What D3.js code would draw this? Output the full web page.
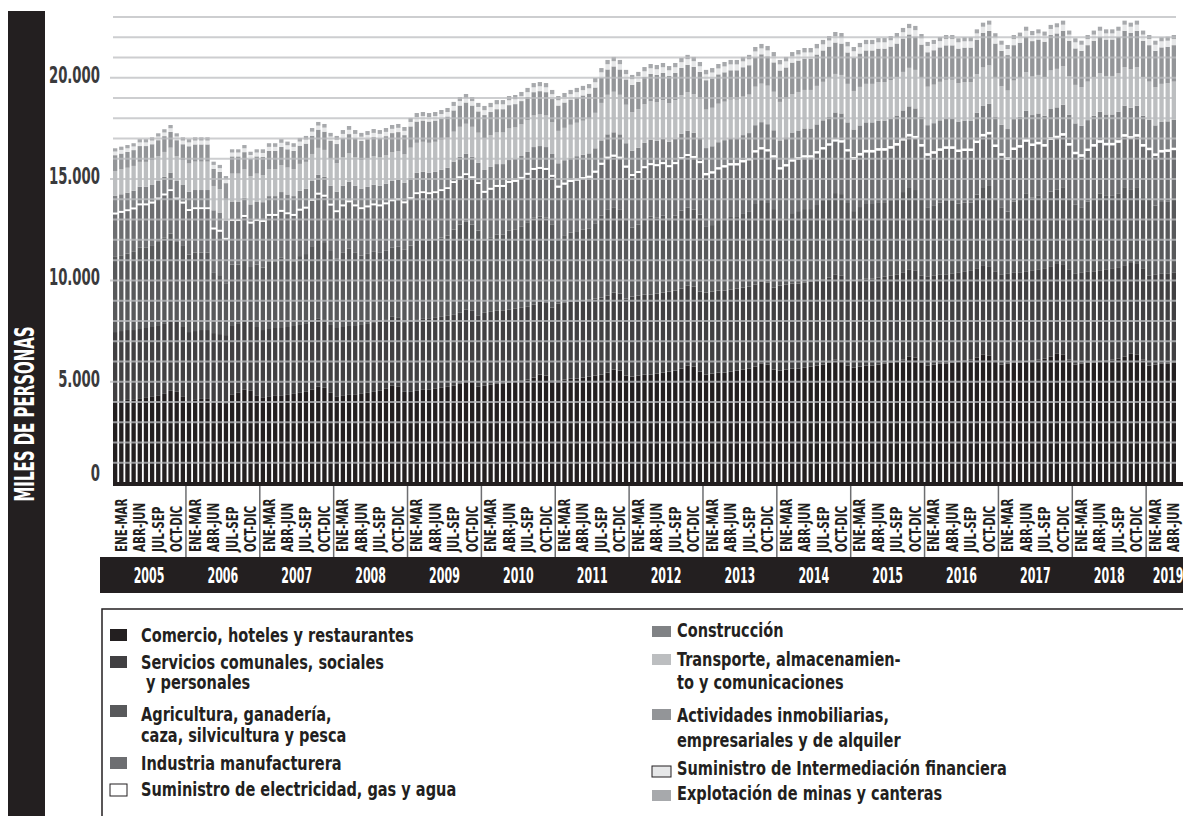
<!DOCTYPE html>
<html>
<head>
<meta charset="utf-8">
<script src="https://cdn.jsdelivr.net/npm/d3@7"></script>
<style>
body { margin: 0; background: #fff; }
text { font-family: "DejaVu Sans Condensed", "DejaVu Sans", sans-serif; font-weight: bold; font-stretch: condensed; }
</style>
</head>
<body>
<svg id="chart" width="1183" height="816"></svg>
<script>
const yearLabels = ['2005', '2006', '2007', '2008', '2009', '2010', '2011', '2012', '2013', '2014', '2015', '2016', '2017', '2018', '2019']
const monthLabels = ['ENE-MAR', 'FEB-ABR', 'MAR-MAY', 'ABR-JUN', 'MAY-JUL', 'JUN-AGO', 'JUL-SEP', 'AGO-OCT', 'SEP-NOV', 'OCT-DIC', 'NOV-ENE', 'DIC-FEB']
const quarterLabels = ['ENE-MAR', 'ABR-JUN', 'JUL-SEP', 'OCT-DIC']
const yTicks = [0, 5000, 10000, 15000, 20000]

// miles de personas, trimestre movil (2005 ENE-MAR ... 2019 MAY-JUL)
const comercio = [
    4000, 4050, 4100, 4100, 4150, 4200, 4250, 4300, 4400, 4550, 4500, 4250,
    4050, 4100, 4150, 4150, 4000, 3950, 3900, 4350, 4450, 4600, 4550, 4300,
    4200, 4250, 4300, 4300, 4350, 4400, 4450, 4500, 4600, 4750, 4700, 4450,
    4250, 4300, 4350, 4350, 4400, 4450, 4500, 4550, 4650, 4800, 4750, 4500,
    4500, 4550, 4600, 4600, 4650, 4700, 4750, 4800, 4900, 5050, 5000, 4750,
    4800, 4850, 4900, 4900, 4950, 5000, 5050, 5100, 5200, 5350, 5300, 5050,
    5050, 5100, 5150, 5150, 5200, 5250, 5300, 5350, 5450, 5600, 5550, 5300,
    5250, 5300, 5350, 5350, 5400, 5450, 5500, 5550, 5650, 5800, 5750, 5500,
    5350, 5400, 5450, 5450, 5500, 5550, 5600, 5650, 5750, 5900, 5850, 5600,
    5550, 5600, 5650, 5650, 5700, 5750, 5800, 5850, 5950, 6100, 6050, 5800,
    5700, 5750, 5800, 5800, 5850, 5900, 5950, 6000, 6100, 6250, 6200, 5950,
    5800, 5850, 5900, 5900, 5950, 6000, 6050, 6100, 6200, 6350, 6300, 6050,
    5850, 5900, 5950, 5950, 6000, 6050, 6100, 6150, 6250, 6400, 6350, 6100,
    5850, 5900, 5950, 5950, 6000, 6050, 6100, 6150, 6250, 6400, 6350, 6100,
    5800, 5850, 5900, 5900, 5950
]
const servicios = [
    3450, 3450, 3450, 3450, 3450, 3450, 3450, 3450, 3450, 3450, 3450, 3450,
    3400, 3400, 3400, 3400, 3400, 3400, 3400, 3400, 3400, 3400, 3400, 3400,
    3350, 3350, 3350, 3350, 3350, 3350, 3350, 3350, 3350, 3350, 3350, 3350,
    3400, 3400, 3400, 3400, 3400, 3400, 3400, 3400, 3400, 3400, 3400, 3400,
    3500, 3500, 3500, 3500, 3500, 3500, 3500, 3500, 3500, 3500, 3500, 3500,
    3600, 3600, 3600, 3600, 3600, 3600, 3600, 3600, 3600, 3600, 3600, 3600,
    3800, 3800, 3800, 3800, 3800, 3800, 3800, 3800, 3800, 3800, 3800, 3800,
    3950, 3950, 3950, 3950, 3950, 3950, 3950, 3950, 3950, 3950, 3950, 3950,
    4050, 4050, 4050, 4050, 4050, 4050, 4050, 4050, 4050, 4050, 4050, 4050,
    4200, 4200, 4200, 4200, 4200, 4200, 4200, 4200, 4200, 4200, 4200, 4200,
    4300, 4300, 4300, 4300, 4300, 4300, 4300, 4300, 4300, 4300, 4300, 4300,
    4400, 4400, 4400, 4400, 4400, 4400, 4400, 4400, 4400, 4400, 4400, 4400,
    4450, 4450, 4450, 4450, 4450, 4450, 4450, 4450, 4450, 4450, 4450, 4450,
    4500, 4500, 4500, 4500, 4500, 4500, 4500, 4500, 4500, 4500, 4500, 4500,
    4450, 4450, 4450, 4450, 4450
]
const agricultura = [
    3710, 3740, 3770, 3860, 4010, 3960, 4000, 4150, 4250, 4310, 3950, 4000,
    3830, 3870, 3820, 3820, 2970, 2910, 2560, 3030, 2930, 2990, 2710, 3080,
    3090, 3340, 3290, 3490, 3320, 3190, 3400, 3450, 3740, 3890, 3840, 3650,
    3420, 3660, 3810, 3610, 3420, 3460, 3510, 3410, 3410, 3410, 3510, 3610,
    3720, 3910, 3910, 3860, 3860, 3910, 3960, 4210, 4350, 4350, 4250, 4210,
    3580, 3680, 3770, 3770, 3920, 3920, 4020, 4170, 4310, 4210, 4210, 4120,
    3230, 3330, 3410, 3480, 3500, 3520, 3720, 4060, 4260, 4210, 4160, 3970,
    3400, 3500, 3690, 3840, 3740, 3790, 3590, 3690, 3840, 3840, 3790, 3790,
    3240, 3280, 3430, 3530, 3580, 3530, 3630, 3680, 3970, 3970, 3920, 3870,
    3180, 3280, 3470, 3570, 3620, 3570, 3720, 3870, 3960, 4010, 4010, 3820,
    3420, 3570, 3670, 3670, 3710, 3660, 3710, 3810, 3960, 4010, 3960, 3810,
    3410, 3460, 3550, 3650, 3600, 3390, 3390, 3340, 3630, 3810, 3960, 3590,
    3310, 3050, 3490, 3610, 3850, 3590, 3620, 3460, 3690, 3620, 3800, 3560,
    3380, 3210, 3440, 3660, 3800, 3620, 3570, 3650, 3850, 3600, 3750, 3510,
    3730, 3400, 3520, 3550, 3580
]
const industria = [
    2100, 2100, 2100, 2100, 2100, 2100, 2100, 2100, 2100, 2100, 2100, 2100,
    2150, 2150, 2150, 2150, 2150, 2150, 2150, 2150, 2150, 2150, 2150, 2150,
    2250, 2250, 2250, 2250, 2250, 2250, 2250, 2250, 2250, 2250, 2250, 2250,
    2300, 2300, 2300, 2300, 2300, 2300, 2300, 2300, 2300, 2300, 2300, 2300,
    2300, 2300, 2300, 2300, 2300, 2300, 2300, 2300, 2300, 2300, 2300, 2300,
    2350, 2350, 2350, 2350, 2350, 2350, 2350, 2350, 2350, 2350, 2350, 2350,
    2500, 2500, 2500, 2500, 2500, 2500, 2500, 2500, 2500, 2500, 2500, 2500,
    2550, 2550, 2550, 2550, 2550, 2550, 2550, 2550, 2550, 2550, 2550, 2550,
    2550, 2550, 2550, 2550, 2550, 2550, 2550, 2550, 2550, 2550, 2550, 2550,
    2550, 2550, 2550, 2550, 2550, 2550, 2550, 2550, 2550, 2550, 2550, 2550,
    2550, 2550, 2550, 2550, 2550, 2550, 2550, 2550, 2550, 2550, 2550, 2550,
    2550, 2550, 2550, 2550, 2550, 2550, 2550, 2550, 2550, 2550, 2550, 2550,
    2550, 2550, 2550, 2550, 2550, 2550, 2550, 2550, 2550, 2550, 2550, 2550,
    2500, 2500, 2500, 2500, 2500, 2500, 2500, 2500, 2500, 2500, 2500, 2500,
    2450, 2450, 2450, 2450, 2450
]
const electricidad = [
    90, 90, 90, 90, 90, 90, 90, 90, 90, 90, 90, 90,
    90, 90, 90, 90, 90, 90, 90, 90, 90, 90, 90, 90,
    90, 90, 90, 90, 90, 90, 90, 90, 90, 90, 90, 90,
    90, 90, 90, 90, 90, 90, 90, 90, 90, 90, 90, 90,
    90, 90, 90, 90, 90, 90, 90, 90, 90, 90, 90, 90,
    90, 90, 90, 90, 90, 90, 90, 90, 90, 90, 90, 90,
    100, 100, 100, 100, 100, 100, 100, 100, 100, 100, 100, 100,
    100, 100, 100, 100, 100, 100, 100, 100, 100, 100, 100, 100,
    110, 110, 110, 110, 110, 110, 110, 110, 110, 110, 110, 110,
    110, 110, 110, 110, 110, 110, 110, 110, 110, 110, 110, 110,
    120, 120, 120, 120, 120, 120, 120, 120, 120, 120, 120, 120,
    120, 120, 120, 120, 120, 120, 120, 120, 120, 120, 120, 120,
    120, 120, 120, 120, 120, 120, 120, 120, 120, 120, 120, 120,
    120, 120, 120, 120, 120, 120, 120, 120, 120, 120, 120, 120,
    120, 120, 120, 120, 120
]
const construccion = [
    820, 820, 820, 820, 820, 820, 820, 820, 820, 820, 820, 820,
    850, 850, 850, 850, 850, 850, 850, 850, 850, 850, 850, 850,
    880, 880, 880, 880, 880, 880, 880, 880, 880, 880, 880, 880,
    920, 920, 920, 920, 920, 920, 920, 920, 920, 920, 920, 920,
    960, 960, 960, 960, 960, 960, 960, 960, 960, 960, 960, 960,
    1030, 1030, 1030, 1030, 1030, 1030, 1030, 1030, 1030, 1030, 1030, 1030,
    1100, 1100, 1100, 1100, 1100, 1100, 1100, 1100, 1100, 1100, 1100, 1100,
    1150, 1150, 1150, 1150, 1150, 1150, 1150, 1150, 1150, 1150, 1150, 1150,
    1230, 1230, 1230, 1230, 1230, 1230, 1230, 1230, 1230, 1230, 1230, 1230,
    1320, 1320, 1320, 1320, 1320, 1320, 1320, 1320, 1320, 1320, 1320, 1320,
    1360, 1360, 1360, 1360, 1360, 1360, 1360, 1360, 1360, 1360, 1360, 1360,
    1380, 1380, 1380, 1380, 1380, 1380, 1380, 1380, 1380, 1380, 1380, 1380,
    1400, 1400, 1400, 1400, 1400, 1400, 1400, 1400, 1400, 1400, 1400, 1400,
    1400, 1400, 1400, 1400, 1400, 1400, 1400, 1400, 1400, 1400, 1400, 1400,
    1380, 1380, 1380, 1380, 1380
]
const transporte = [
    1230, 1230, 1230, 1230, 1230, 1230, 1230, 1230, 1230, 1230, 1230, 1230,
    1400, 1400, 1400, 1400, 1200, 1150, 1000, 1400, 1400, 1400, 1400, 1400,
    1330, 1330, 1330, 1330, 1330, 1330, 1330, 1330, 1330, 1330, 1330, 1330,
    1400, 1400, 1400, 1400, 1400, 1400, 1400, 1400, 1400, 1400, 1400, 1400,
    1480, 1480, 1480, 1480, 1480, 1480, 1480, 1480, 1480, 1480, 1480, 1480,
    1560, 1560, 1560, 1560, 1560, 1560, 1560, 1560, 1560, 1560, 1560, 1560,
    1600, 1600, 1620, 1650, 1680, 1700, 1750, 1850, 1950, 2000, 1950, 1900,
    1900, 1900, 1900, 1900, 1900, 1900, 1900, 1900, 1900, 1900, 1900, 1900,
    1900, 1900, 1900, 1900, 1900, 1900, 1900, 1900, 1900, 1900, 1900, 1900,
    1900, 1900, 1900, 1900, 1900, 1900, 1900, 1900, 1900, 1900, 1900, 1900,
    1900, 1900, 1900, 1900, 1900, 1900, 1900, 1900, 1900, 1900, 1900, 1900,
    1900, 1900, 1900, 1900, 1900, 1900, 1900, 1900, 1900, 1900, 1900, 1900,
    1900, 1900, 1900, 1900, 1900, 1900, 1900, 1900, 1900, 1900, 1900, 1900,
    1900, 1900, 1900, 1900, 1900, 1900, 1900, 1900, 1900, 1900, 1900, 1900,
    1880, 1880, 1880, 1880, 1880
]
const inmobiliarias = [
    780, 780, 780, 780, 780, 780, 780, 780, 780, 780, 780, 780,
    850, 850, 850, 850, 850, 850, 850, 850, 850, 850, 850, 850,
    900, 900, 900, 900, 900, 900, 900, 900, 900, 900, 900, 900,
    950, 950, 950, 950, 950, 950, 950, 950, 950, 950, 950, 950,
    1050, 1050, 1050, 1050, 1050, 1050, 1050, 1050, 1050, 1050, 1050, 1050,
    1150, 1150, 1150, 1150, 1150, 1150, 1150, 1150, 1150, 1150, 1150, 1150,
    1250, 1250, 1250, 1250, 1250, 1250, 1250, 1250, 1250, 1250, 1250, 1250,
    1350, 1350, 1350, 1350, 1350, 1350, 1350, 1350, 1350, 1350, 1350, 1350,
    1450, 1450, 1450, 1450, 1450, 1450, 1450, 1450, 1450, 1450, 1450, 1450,
    1550, 1550, 1550, 1550, 1550, 1550, 1550, 1550, 1550, 1550, 1550, 1550,
    1650, 1650, 1650, 1650, 1650, 1650, 1650, 1650, 1650, 1650, 1650, 1650,
    1700, 1700, 1700, 1700, 1700, 1700, 1700, 1700, 1700, 1700, 1700, 1700,
    1750, 1750, 1750, 1750, 1750, 1750, 1750, 1750, 1750, 1750, 1750, 1750,
    1800, 1800, 1800, 1800, 1800, 1800, 1800, 1800, 1800, 1800, 1800, 1800,
    1800, 1800, 1800, 1800, 1800
]
const financiera = [
    180, 180, 180, 180, 180, 180, 180, 180, 180, 180, 180, 180,
    190, 190, 190, 190, 190, 190, 190, 190, 190, 190, 190, 190,
    200, 200, 200, 200, 200, 200, 200, 200, 200, 200, 200, 200,
    210, 210, 210, 210, 210, 210, 210, 210, 210, 210, 210, 210,
    220, 220, 220, 220, 220, 220, 220, 220, 220, 220, 220, 220,
    240, 240, 240, 240, 240, 240, 240, 240, 240, 240, 240, 240,
    260, 260, 260, 260, 260, 260, 260, 260, 260, 260, 260, 260,
    280, 280, 280, 280, 280, 280, 280, 280, 280, 280, 280, 280,
    290, 290, 290, 290, 290, 290, 290, 290, 290, 290, 290, 290,
    300, 300, 300, 300, 300, 300, 300, 300, 300, 300, 300, 300,
    310, 310, 310, 310, 310, 310, 310, 310, 310, 310, 310, 310,
    310, 310, 310, 310, 310, 310, 310, 310, 310, 310, 310, 310,
    300, 300, 300, 300, 300, 300, 300, 300, 300, 300, 300, 300,
    300, 300, 300, 300, 300, 300, 300, 300, 300, 300, 300, 300,
    300, 300, 300, 300, 300
]
const minas = [
    160, 160, 160, 160, 160, 160, 160, 160, 160, 160, 160, 160,
    160, 160, 160, 160, 160, 160, 160, 160, 160, 160, 160, 160,
    180, 180, 180, 180, 180, 180, 180, 180, 180, 180, 180, 180,
    190, 190, 190, 190, 190, 190, 190, 190, 190, 190, 190, 190,
    200, 200, 200, 200, 200, 200, 200, 200, 200, 200, 200, 200,
    210, 210, 210, 210, 210, 210, 210, 210, 210, 210, 210, 210,
    210, 210, 210, 210, 210, 210, 210, 210, 210, 210, 210, 210,
    210, 210, 210, 210, 210, 210, 210, 210, 210, 210, 210, 210,
    220, 220, 220, 220, 220, 220, 220, 220, 220, 220, 220, 220,
    220, 220, 220, 220, 220, 220, 220, 220, 220, 220, 220, 220,
    210, 210, 210, 210, 210, 210, 210, 210, 210, 210, 210, 210,
    200, 200, 200, 200, 200, 200, 200, 200, 200, 200, 200, 200,
    200, 200, 200, 200, 200, 200, 200, 200, 200, 200, 200, 200,
    200, 200, 200, 200, 200, 200, 200, 200, 200, 200, 200, 200,
    200, 200, 200, 200, 200
]

const series = [
    {key: 'comercio', name: 'Comercio, hoteles y restaurantes', values: comercio, color: '#231f20'},
    {key: 'servicios', name: 'Servicios comunales, sociales| y personales', values: servicios, color: '#414042'},
    {key: 'agricultura', name: 'Agricultura, ganadería,|caza, silvicultura y pesca', values: agricultura, color: '#58595b'},
    {key: 'industria', name: 'Industria manufacturera', values: industria, color: '#6d6e71'},
    {key: 'electricidad', name: 'Suministro de electricidad, gas y agua', values: electricidad, color: '#ffffff'},
    {key: 'construccion', name: 'Construcción', values: construccion, color: '#808285'},
    {key: 'transporte', name: 'Transporte, almacenamien-|to y comunicaciones', values: transporte, color: '#bcbec0'},
    {key: 'inmobiliarias', name: 'Actividades inmobiliarias,|empresariales y de alquiler', values: inmobiliarias, color: '#939598'},
    {key: 'financiera', name: 'Suministro de Intermediación financiera', values: financiera, color: '#e6e7e8'},
    {key: 'minas', name: 'Explotación de minas y canteras', values: minas, color: '#a7a9ac'}
]
const keys = series.map(s => s.key)

let periods = []
yearLabels.forEach(y => monthLabels.forEach(m => periods.push(y + ' ' + m)))
periods = periods.slice(0, comercio.length)

const rows = periods.map((p, i) => {
    let row = {period: p}
    series.forEach(s => { row[s.key] = s.values[i] })
    return row
})

const svg = d3.select('#chart')
const dark = '#231f20'

// the original type is a very narrow grotesque, so squeeze the installed font
function narrowText(parent, px, py, sx, size, str, rotate) {
    return parent.append('text')
        .attr('transform', `translate(${px}, ${py})` + (rotate ? ' rotate(-90)' : '') + ` scale(${sx}, 1)`)
        .attr('font-size', size)
        .text(str)
}

// left title band
svg.append('rect').attr('x', 8).attr('y', 11).attr('width', 37).attr('height', 805).attr('fill', dark)
narrowText(svg, 34, 414, 0.64, 26, 'MILES DE PERSONAS', true)
    .attr('text-anchor', 'middle')
    .attr('fill', '#fff')

const x = d3.scaleBand().domain(periods).range([113, 1176]).paddingInner(0.3).paddingOuter(0)
const y = d3.scaleLinear().domain([0, 23000]).range([483, 17])
const color = d3.scaleOrdinal().domain(keys).range(series.map(s => s.color))

const stacked = d3.stack().keys(keys)(rows)

svg.append('g')
    .selectAll('g')
    .data(stacked)
    .enter().append('g')
      .attr('fill', d => color(d.key))
    .selectAll('rect')
    .data(d => d)
    .enter().append('rect')
      .attr('x', d => x(d.data.period))
      .attr('y', d => y(d[1]))
      .attr('height', d => y(d[0]) - y(d[1]))
      .attr('width', x.bandwidth())

// grid on top of the bars
svg.append('g')
    .selectAll('line')
    .data(y.ticks(23).filter(v => v > 0))
    .enter().append('line')
      .attr('x1', d => yTicks.includes(d) ? 110 : 113)
      .attr('x2', 1176)
      .attr('y1', d => y(d))
      .attr('y2', d => y(d))
      .attr('stroke', '#bcbec0')
      .attr('stroke-opacity', 0.75)
      .attr('stroke-width', 2)

const yAxisLabels = svg.append('g').attr('fill', '#3a3a3c')
yTicks.forEach(v => {
    narrowText(yAxisLabels, 100, y(v) + (v === 0 ? -2 : 5), 0.64, 23, d3.format(',')(v).replace(/,/g, '.'))
        .attr('text-anchor', 'end')
})

// baseline
svg.append('line')
    .attr('x1', 113).attr('x2', 1183)
    .attr('y1', y(0) + 1).attr('y2', y(0) + 1)
    .attr('stroke', dark).attr('stroke-width', 4)

// period labels, year separators and year band
const half = x.step() * x.paddingInner() / 2
const yearStarts = yearLabels.map((yl, k) => x(periods[k * 12]) - half)

svg.append('g')
    .selectAll('line')
    .data(yearStarts.slice(1))
    .enter().append('line')
      .attr('x1', d => d).attr('x2', d => d)
      .attr('y1', 486).attr('y2', 557)
      .attr('stroke', '#6d6e71').attr('stroke-width', 1.5)

const tickGroup = svg.append('g').attr('fill', dark)
yearLabels.forEach((yl, k) => {
    quarterLabels.forEach((q, j) => {
        let idx = k * 12 + j * 3 + 1
        if (idx < periods.length) {
            narrowText(tickGroup, x(periods[idx]) + x.bandwidth() / 2 + 5.5, 552, 0.77, 15, q, true)
        }
    })
})

svg.append('rect').attr('x', 100).attr('y', 557).attr('width', 1083).attr('height', 36).attr('fill', dark)
const yearGroup = svg.append('g').attr('fill', '#fff')
yearLabels.forEach((yl, k) => {
    let cx = (yearStarts[k] + Math.min(yearStarts[k + 1] || 1190, 1190)) / 2
    narrowText(yearGroup, cx, 583, 0.6, 20.5, yl).attr('text-anchor', 'middle')
})

// legend
svg.append('rect')
    .attr('x', 102).attr('y', 609).attr('width', 1100).attr('height', 230)
    .attr('fill', 'none').attr('stroke', dark).attr('stroke-width', 1.5)

const legendPos = [
    {sx: 110, sy: 629, sw: 17, sh: 12, tx: 141, ty: [642]},
    {sx: 110, sy: 656, sw: 17, sh: 12, tx: 141, ty: [669, 689]},
    {sx: 110, sy: 705, sw: 17, sh: 12, tx: 141, ty: [721, 742]},
    {sx: 110, sy: 757, sw: 17, sh: 12, tx: 141, ty: [770]},
    {sx: 110, sy: 784, sw: 17, sh: 12, tx: 141, ty: [796]},
    {sx: 652, sy: 626, sw: 19, sh: 11, tx: 677, ty: [637]},
    {sx: 652, sy: 654, sw: 19, sh: 11, tx: 677, ty: [666, 689]},
    {sx: 652, sy: 709, sw: 19, sh: 11, tx: 677, ty: [722, 747]},
    {sx: 652, sy: 766, sw: 19, sh: 11, tx: 677, ty: [775]},
    {sx: 652, sy: 790, sw: 19, sh: 11, tx: 677, ty: [800]}
]

const legend = svg.append('g')
    .selectAll('g')
    .data(series)
    .enter().append('g')
      .attr('fill', dark)

legend.append('rect')
    .attr('x', (d, i) => legendPos[i].sx)
    .attr('y', (d, i) => legendPos[i].sy)
    .attr('width', (d, i) => legendPos[i].sw)
    .attr('height', (d, i) => legendPos[i].sh)
    .attr('fill', d => d.color)
    .attr('stroke', d => (d.key === 'electricidad' || d.key === 'financiera') ? dark : 'none')
    .attr('stroke-width', 1)

legend.each(function(d, i) {
    let g = d3.select(this)
    d.name.split('|').forEach((line, j) => {
        let lead = line.startsWith(' ') ? 5 : 0
        narrowText(g, legendPos[i].tx + lead, legendPos[i].ty[j], 0.85, 19, line.trim())
    })
})
</script>
</body>
</html>
